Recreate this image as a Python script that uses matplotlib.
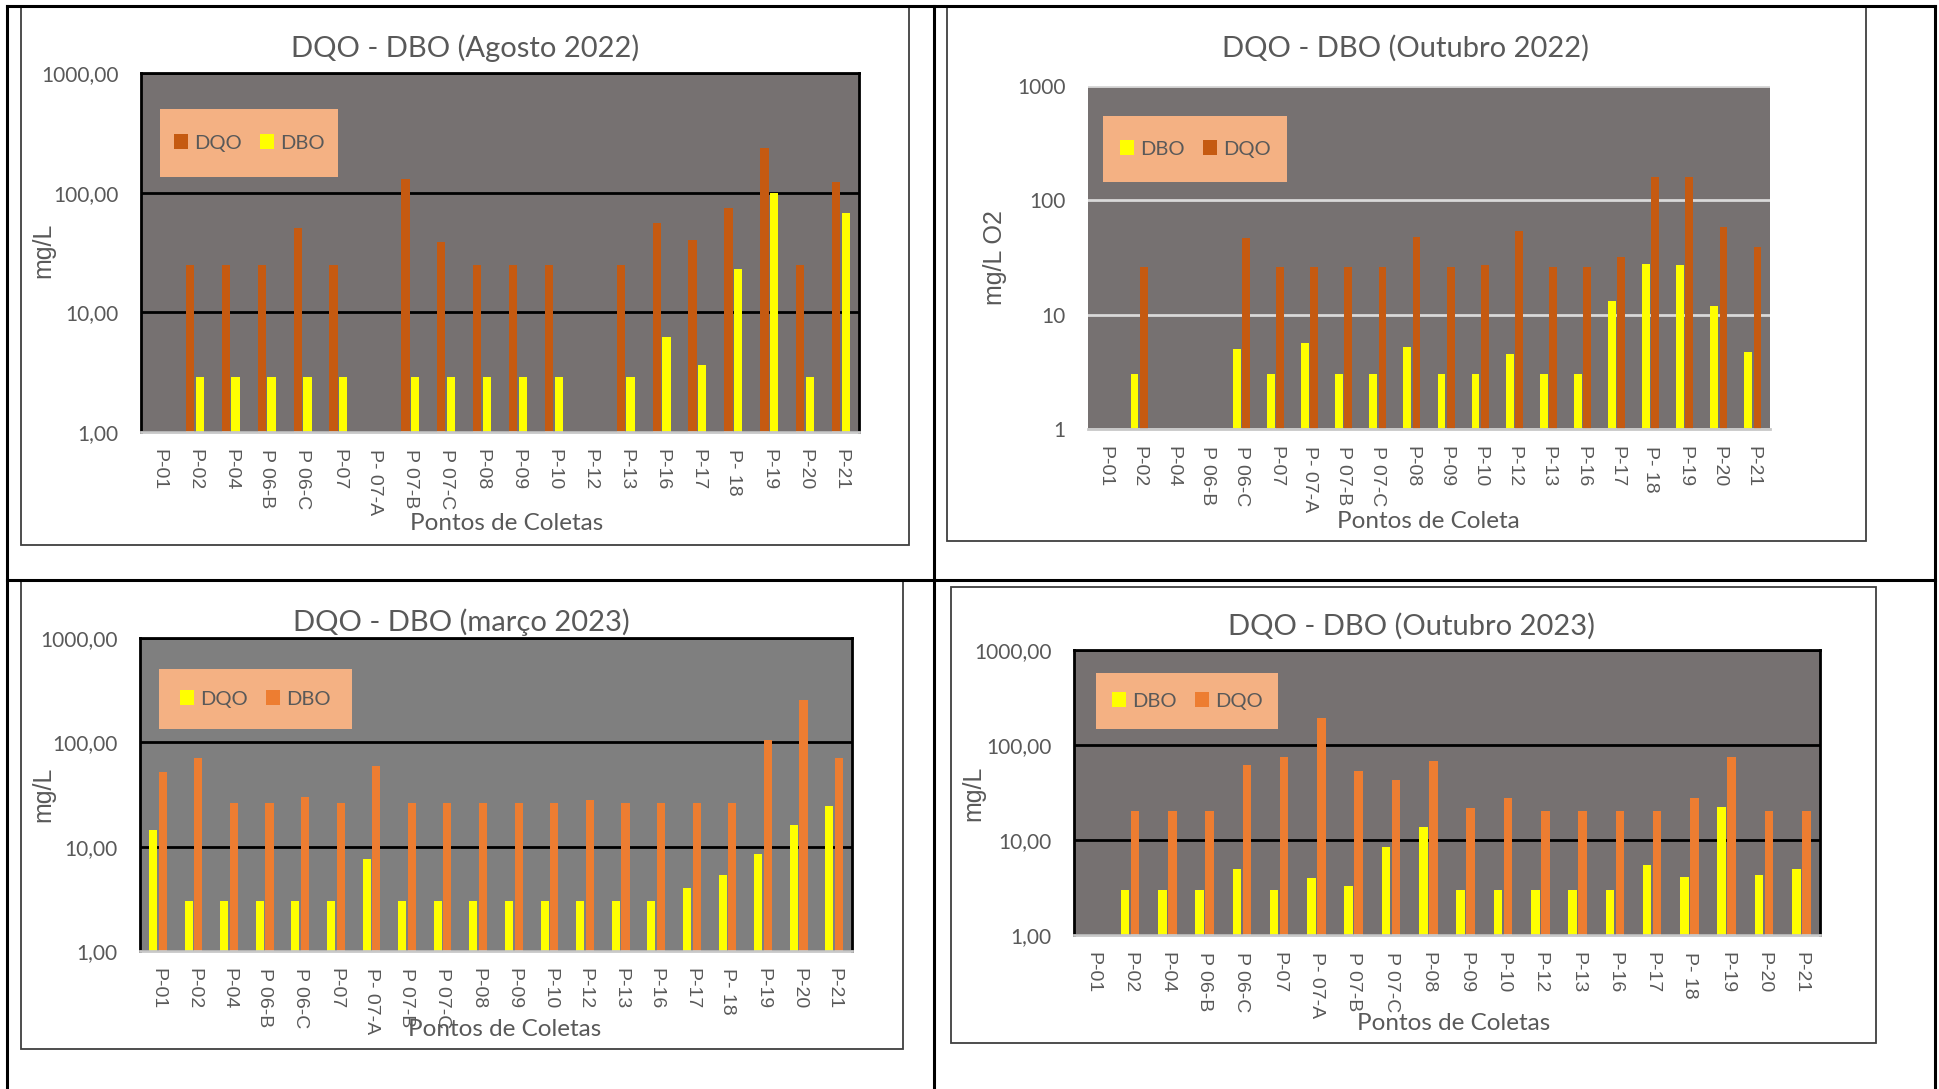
import numpy as np
import matplotlib
matplotlib.use("Agg")
import matplotlib.pyplot as plt
from matplotlib.patches import Rectangle, Patch
from matplotlib.lines import Line2D
from matplotlib.ticker import NullLocator

W, H = 1939, 1089
nan = np.nan

pontos = ["P-01", "P-02", "P-04", "P 06-B", "P 06-C", "P-07", "P- 07-A", "P 07-B",
          "P 07-C", "P-08", "P-09", "P-10", "P-12", "P-13", "P-16", "P-17", "P- 18",
          "P-19", "P-20", "P-21"]

# agosto 2022
ago22_dqo = [nan, 25, 25, 25, 51, 25, nan, 130, 39, 25, 25, 25, nan, 25, 56, 40, 74, 234, 25, 123]
ago22_dbo = [nan, 2.9, 2.9, 2.9, 2.9, 2.9, nan, 2.9, 2.9, 2.9, 2.9, 2.9, nan, 2.9, 6.2, 3.6, 23, 100, 2.9, 67]

# outubro 2022
out22_dbo = [nan, 3, nan, nan, 5, 3, 5.6, 3, 3, 5.2, 3, 3, 4.5, 3, 3, 13.2, 27.6, 27.3, 12, 4.7]
out22_dqo = [nan, 26, nan, nan, 47, 26, 26, 26, 26, 48, 26, 27, 54, 26, 26, 32, 161, 161, 59, 39]

# março 2023
mar23_dqo = [14.6, 3, 3, 3, 3, 3, 7.7, 3, 3, 3, 3, 3, 3, 3, 3, 4, 5.4, 8.5, 16.2, 24.8]
mar23_dbo = [52, 71, 26, 26, 30, 26, 59, 26, 26, 26, 26, 26, 28, 26, 26, 26, 26, 106, 256, 71]

# outubro 2023
out23_dbo = [nan, 3, 3, 3, 5, 3, 4, 3.3, 8.5, 13.7, 3, 3, 3, 3, 3, 5.5, 4.1, 22.3, 4.3, 4.9]
out23_dqo = [nan, 20, 20, 20, 61, 75, 191, 53, 43, 68, 21.6, 28, 20, 20, 20, 20, 28, 75, 20, 20]

ticks_virgula = ["1,00", "10,00", "100,00", "1000,00"]
ticks_inteiro = ["1", "10", "100", "1000"]

TXT = "#595959"
AMARELO = "#FFFF00"
MARROM = "#C55A11"
LARANJA = "#ED7D31"
CALIBRI = ["Lato", "DejaVu Sans"]
ARIAL = ["Liberation Sans", "DejaVu Sans"]

fig = plt.figure(figsize=(W / 100, H / 100), dpi=100)


def fx(x):
    return x / W


def fy(y):
    return 1 - y / H


def area(l, t, r, b):
    return [fx(l), fy(b), (r - l) / W, (b - t) / H]


def linha(x0, y0, x1, y1, lw=2.2, cor="black"):
    fig.add_artist(Line2D([fx(x0), fx(x1)], [fy(y0), fy(y1)], transform=fig.transFigure,
                          lw=lw, color=cor, solid_capstyle="projecting"))


def grafico(moldura, plot, titulo, p_titulo, ylabel, p_ylabel, xlabel, p_xlabel,
            s1, s2, nomes, cores, yticks, legenda, fundo, grade, borda):
    l, t, r, b = moldura
    fig.add_artist(Rectangle((fx(l), fy(b)), (r - l) / W, (b - t) / H, transform=fig.transFigure,
                             fill=False, edgecolor="#3F3F3F", lw=1.3, zorder=-1))

    ax = fig.add_axes(area(*plot))
    ax.set_facecolor(fundo)
    ax.set_yscale("log")
    x = np.arange(len(pontos))
    ax.bar(x - 0.135, s1, 0.23, color=cores[0], zorder=2)
    ax.bar(x + 0.135, s2, 0.23, color=cores[1], zorder=2)
    ax.set_ylim(1, 1000)
    ax.set_xlim(-0.5, len(pontos) - 0.5)

    ax.set_yticks([1, 10, 100, 1000])
    ax.yaxis.set_minor_locator(NullLocator())
    ax.set_yticklabels(yticks, fontfamily=CALIBRI, fontsize=15, color=TXT)
    ax.tick_params(axis="y", length=0, pad=16)
    ax.set_xticks(x)
    ax.set_xticklabels(pontos, rotation=-90, fontfamily=ARIAL, fontsize=14, color=TXT,
                       va="top", ha="center")
    ax.tick_params(axis="x", length=0, pad=12)
    ax.set_axisbelow(True)
    ax.yaxis.grid(True, color=grade, lw=2)

    for lado in ("left", "top", "right"):
        if borda:
            ax.spines[lado].set_color("black")
            ax.spines[lado].set_linewidth(2)
        else:
            ax.spines[lado].set_visible(False)
    ax.spines["bottom"].set_color("#C8C8C8")
    ax.spines["bottom"].set_linewidth(2)

    fig.text(fx(p_titulo[0]), fy(p_titulo[1]), titulo, ha="center", va="center",
             fontsize=21, fontfamily=CALIBRI, color=TXT)
    fig.text(fx(p_ylabel[0]), fy(p_ylabel[1]), ylabel, ha="center", va="center",
             rotation=90, fontsize=18, fontfamily=ARIAL, color=TXT)
    fig.text(fx(p_xlabel[0]), fy(p_xlabel[1]), xlabel, ha="center", va="center",
             fontsize=17.5, fontfamily=CALIBRI, color=TXT)

    # caixa da legenda
    ll, lt, lr, lb = legenda
    fig.add_artist(Rectangle((fx(ll), fy(lb)), (lr - ll) / W, (lb - lt) / H,
                             transform=fig.transFigure, facecolor="#F4B183",
                             edgecolor="none", zorder=3))
    handles = [Patch(facecolor=cores[0]), Patch(facecolor=cores[1])]
    fig.legend(handles, nomes, loc="center",
               bbox_to_anchor=(fx((ll + lr) / 2), fy((lt + lb) / 2)),
               frameon=False, ncol=2, prop={"family": CALIBRI, "size": 14.5},
               labelcolor=TXT, handlelength=0.7, handleheight=0.7,
               handletextpad=0.3, columnspacing=0.9, borderpad=0)
    return ax


grafico((21, 7, 909, 545), (141, 73, 859, 432), "DQO - DBO (Agosto 2022)", (465, 48),
        "mg/L", (43, 250), "Pontos de Coletas", (507, 524),
        ago22_dqo, ago22_dbo, ["DQO", "DBO"], [MARROM, AMARELO], ticks_virgula,
        (160, 109, 338, 177), "#767171", "black", True)

grafico((947, 7, 1866, 541), (1088, 86, 1770, 429), "DQO - DBO (Outubro 2022)", (1406, 48),
        "mg/L O2", (995, 258), "Pontos de Coleta", (1428, 521),
        out22_dbo, out22_dqo, ["DBO", "DQO"], [AMARELO, MARROM], ticks_inteiro,
        (1103, 116, 1287, 182), "#767171", "#D9D9D9", False)

grafico((21, 581, 903, 1049), (140, 638, 852, 951), "DQO - DBO (março 2023)", (461, 622),
        "mg/L", (43, 794), "Pontos de Coletas", (505, 1030),
        mar23_dqo, mar23_dbo, ["DQO", "DBO"], [AMARELO, LARANJA], ticks_virgula,
        (159, 669, 352, 729), "#7F7F7F", "black", True)

grafico((951, 587, 1876, 1043), (1074, 650, 1820, 935), "DQO - DBO (Outubro 2023)", (1412, 626),
        "mg/L", (973, 793), "Pontos de Coletas", (1454, 1024),
        out23_dbo, out23_dqo, ["DBO", "DQO"], [AMARELO, LARANJA], ticks_virgula,
        (1096, 673, 1278, 729), "#767171", "black", True)

# linhas da tabela
linha(7, 6, 7, H)
linha(934, 6, 934, H)
linha(1935, 6, 1935, H)
linha(7, 6, 1935, 6)
linha(7, 580, 1935, 580)

fig.savefig("out.png", dpi=100)
